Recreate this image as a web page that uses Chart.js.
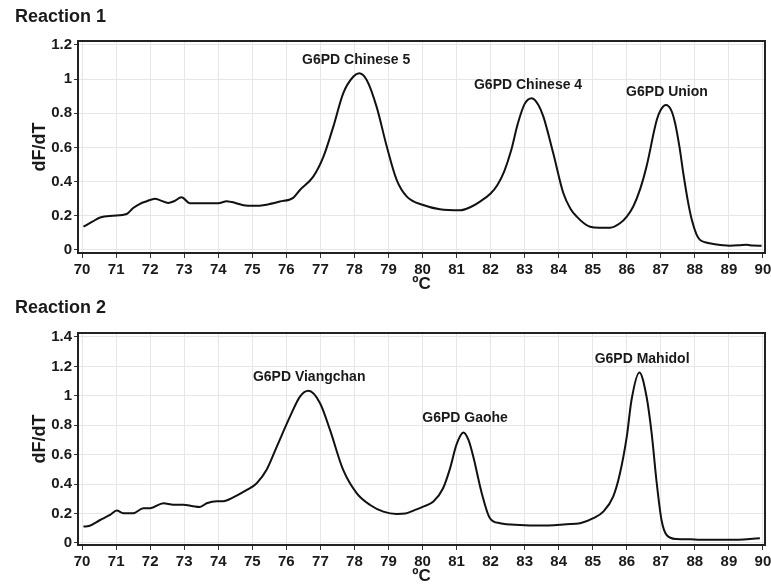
<!DOCTYPE html>
<html>
<head>
<meta charset="utf-8">
<script src="https://cdn.jsdelivr.net/npm/chart.js@4/dist/chart.umd.min.js"></script>
<style>
  html, body { margin: 0; padding: 0; background: #fff; }
  #wrap { position: relative; width: 771px; height: 584px; overflow: hidden; background: #fff; }
  .ttl { position: absolute; left: 15px; font: bold 18px "Liberation Sans", Arial, sans-serif; color: #1a1a1a; line-height: 20px; }
  canvas { position: absolute; left: 0; }
</style>
</head>
<body>
<div id="wrap">
  <canvas id="c1" width="771" height="295" style="top:0px"></canvas>
  <canvas id="c2" width="771" height="295" style="top:292px"></canvas>
  <div class="ttl" style="top:6px">Reaction 1</div>
  <div class="ttl" style="top:297px">Reaction 2</div>
</div>
<script>
// ---- Data ----
const xTicks = [70,71,72,73,74,75,76,77,78,79,80,81,82,83,84,85,86,87,88,89,90];
const yTicks1 = [0,0.2,0.4,0.6,0.8,1,1.2];
const yTicks2 = [0,0.2,0.4,0.6,0.8,1,1.2,1.4];

const temps1 = [70.04,70.3,70.53,70.9,71.31,71.5,71.7,71.9,72.14,72.3,72.53,72.7,72.92,73.17,73.7,74.0,74.25,74.4,74.74,75.03,75.42,75.81,76.2,76.4,76.79,77.09,77.38,77.67,77.97,78.14,78.36,78.65,78.95,79.24,79.54,80.02,80.51,81.1,81.4,81.69,82.0,82.2,82.4,82.6,82.8,83.0,83.21,83.4,83.55,83.84,84.14,84.35,84.53,84.75,84.92,85.2,85.51,85.8,86.0,86.19,86.4,86.58,86.88,87.0,87.15,87.3,87.42,87.55,87.66,87.8,87.91,88.05,88.15,88.3,88.54,89.03,89.3,89.52,89.7,89.96];
const dfdt1  = [0.136,0.165,0.19,0.20,0.21,0.245,0.27,0.285,0.30,0.29,0.275,0.285,0.308,0.273,0.273,0.273,0.285,0.28,0.262,0.258,0.265,0.283,0.305,0.351,0.429,0.546,0.722,0.917,1.015,1.034,0.995,0.839,0.605,0.41,0.312,0.263,0.238,0.232,0.25,0.283,0.33,0.38,0.46,0.58,0.74,0.855,0.888,0.85,0.78,0.566,0.33,0.24,0.195,0.155,0.136,0.13,0.13,0.156,0.195,0.254,0.36,0.488,0.76,0.82,0.849,0.82,0.742,0.6,0.449,0.28,0.176,0.09,0.059,0.045,0.035,0.025,0.027,0.03,0.026,0.025];

const temps2 = [70.04,70.2,70.53,70.82,71.02,71.21,71.5,71.8,72.0,72.39,72.68,72.97,73.26,73.46,73.66,73.96,74.15,74.44,74.84,75.13,75.42,75.72,76.11,76.4,76.65,76.99,77.28,77.67,78.07,78.46,78.85,79.24,79.5,79.73,80.02,80.32,80.6,80.8,81.0,81.2,81.35,81.49,81.74,81.98,82.28,82.86,83.45,84.23,84.63,85.02,85.31,85.6,85.8,86.0,86.14,86.37,86.58,86.73,86.88,87.02,87.17,87.46,87.86,88.15,89.03,89.91];
const dfdt2  = [0.111,0.115,0.156,0.19,0.22,0.202,0.202,0.236,0.236,0.27,0.26,0.26,0.25,0.245,0.27,0.284,0.284,0.31,0.36,0.406,0.497,0.655,0.86,0.995,1.034,0.95,0.77,0.496,0.337,0.258,0.213,0.197,0.2,0.22,0.247,0.281,0.37,0.50,0.67,0.751,0.70,0.587,0.338,0.168,0.134,0.122,0.118,0.127,0.134,0.168,0.213,0.315,0.474,0.723,0.973,1.159,0.995,0.746,0.406,0.156,0.054,0.027,0.025,0.021,0.021,0.032];

const peakNames1 = ["G6PD Chinese 5","G6PD Chinese 4","G6PD Union"];
const peakTemps1 = [78.05, 83.1, 87.18];
const peakVals1  = [1.11, 0.966, 0.925];
const peakNames2 = ["G6PD Viangchan","G6PD Gaohe","G6PD Mahidol"];
const peakTemps2 = [76.67, 81.25, 86.45];
const peakVals2  = [1.13, 0.85, 1.25];

// ---- Chart builder ----
const FONT = '"Liberation Sans", Arial, sans-serif';
const TXT = '#1a1a1a';

const peakLabelPlugin = {
  id: 'peakLabels',
  afterDatasetsDraw(chart, args, opts) {
    const {ctx, scales} = chart;
    ctx.save();
    ctx.font = 'bold 14px ' + FONT;
    ctx.fillStyle = TXT;
    ctx.textAlign = 'center';
    ctx.textBaseline = 'middle';
    opts.names.forEach((n, i) => {
      ctx.fillText(n, scales.x.getPixelForValue(opts.temps[i]), scales.y.getPixelForValue(opts.vals[i]));
    });
    ctx.restore();
  }
};
const boxPlugin = {
  id: 'box',
  afterDraw(chart) {
    const {ctx, chartArea: a} = chart;
    ctx.save();
    ctx.strokeStyle = '#222';
    ctx.lineWidth = 2;
    ctx.strokeRect(a.left, a.top, a.right - a.left, a.bottom - a.top);
    ctx.restore();
  }
};

function makeChart(id, temps, vals, yTicks, yMin, yMax, names, ptemps, pvals) {
  const data = temps.map((t, i) => ({x: t, y: vals[i]}));
  return new Chart(document.getElementById(id), {
    type: 'line',
    data: { datasets: [{ data, borderColor: '#111', borderWidth: 2, pointRadius: 0, cubicInterpolationMode: 'monotone', fill: false }] },
    options: {
      responsive: false, animation: false,
      layout: { padding: { top: 41, right: 6, left: 0, bottom: 0 } },
      plugins: {
        legend: { display: false }, tooltip: { enabled: false },
        peakLabels: { names, temps: ptemps, vals: pvals }
      },
      scales: {
        x: {
          type: 'linear', min: 69.88, max: 90.06,
          afterBuildTicks: s => { s.ticks = xTicks.map(v => ({value: v})); },
          afterFit: s => { s.height = 42; s.paddingLeft = 0; s.paddingRight = 0; },
          grid: { color: '#e6e6e6', lineWidth: 1, tickLength: 5, tickColor: '#333' },
          border: { display: false },
          ticks: { autoSkip: false, maxRotation: 0, padding: 3, color: TXT, font: { family: FONT, size: 15, weight: 'bold' }, callback: v => String(v) },
          title: { display: true, text: 'ºC', color: TXT, font: { family: FONT, size: 17, weight: 'bold' }, padding: { top: 0, bottom: 0 } }
        },
        y: {
          min: yMin, max: yMax,
          afterBuildTicks: s => { s.ticks = yTicks.map(v => ({value: v})); },
          afterFit: s => { s.width = 78; s.paddingTop = 0; s.paddingBottom = 0; },
          grid: { color: '#e6e6e6', lineWidth: 1, tickLength: 4, tickColor: '#333' },
          border: { display: false },
          ticks: { padding: 2, color: TXT, font: { family: FONT, size: 15, weight: 'bold' }, callback: v => String(Math.round(v * 10) / 10) },
          title: { display: true, text: 'dF/dT', color: TXT, font: { family: FONT, size: 18, weight: 'bold' }, padding: { top: 29, bottom: 0 } }
        }
      }
    },
    plugins: [peakLabelPlugin, boxPlugin]
  });
}

makeChart('c1', temps1, dfdt1, yTicks1, -0.018, 1.223, peakNames1, peakTemps1, peakVals1);
makeChart('c2', temps2, dfdt2, yTicks2, -0.014, 1.427, peakNames2, peakTemps2, peakVals2);
</script>
</body>
</html>
